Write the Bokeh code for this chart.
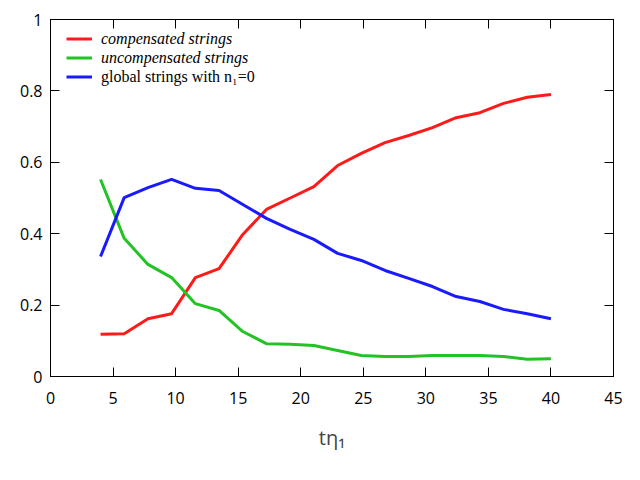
from bokeh.plotting import figure
from bokeh.models import LinearAxis, Legend, LegendItem, Range1d, FixedTicker, CustomLabelingPolicy
from bokeh.embed import file_html
from bokeh.resources import INLINE

t = [4.0, 5.89, 7.79, 9.68, 11.58, 13.47, 15.37, 17.26, 19.16, 21.05,
     22.95, 24.84, 26.74, 28.63, 30.53, 32.42, 34.32, 36.21, 38.11, 40.0]
compensated = [0.118, 0.120, 0.162, 0.176, 0.277, 0.302, 0.398, 0.468, 0.500, 0.532,
               0.591, 0.625, 0.655, 0.675, 0.697, 0.725, 0.739, 0.765, 0.782, 0.790]
uncompensated = [0.552, 0.387, 0.314, 0.277, 0.204, 0.185, 0.126, 0.092, 0.090, 0.087,
                 0.073, 0.059, 0.056, 0.056, 0.059, 0.059, 0.059, 0.056, 0.048, 0.050]
global_n1 = [0.336, 0.501, 0.529, 0.552, 0.527, 0.521, 0.482, 0.443, 0.412, 0.384,
             0.345, 0.325, 0.297, 0.275, 0.252, 0.224, 0.210, 0.188, 0.176, 0.162]

x_ticks = [0, 5, 10, 15, 20, 25, 30, 35, 40, 45]
y_ticks = [0, 0.2, 0.4, 0.6, 0.8, 1]
y_labels = {0: "0", 0.2: "0.2", 0.4: "0.4", 0.6: "0.6", 0.8: "0.8", 1: "1"}

TICK_FONT = "Open Sans"

p = figure(frame_width=563, frame_height=357, output_backend="svg", toolbar_location=None,
           x_range=Range1d(0, 45), y_range=Range1d(0, 1),
           x_axis_location=None, y_axis_location=None,
           min_border_left=50, min_border_right=20, min_border_top=19, min_border_bottom=88)
p.grid.visible = False
p.outline_line_color = "black"
p.outline_line_width = 1
p.background_fill_color = "white"
p.border_fill_color = "white"

no_labels = CustomLabelingPolicy(code="""
for (const i of Array.from(indices)) indices.unset(i)
return indices
""")

def style_axis(ax, labels=True):
    ax.major_tick_in = 9
    ax.major_tick_out = 0
    ax.minor_tick_in = 0
    ax.minor_tick_out = 0
    ax.axis_line_color = "black"
    ax.major_tick_line_color = "black"
    ax.major_label_text_font = TICK_FONT
    ax.major_label_text_color = "black"
    ax.major_label_text_font_size = "16px"
    if not labels:
        ax.major_label_policy = no_labels
        ax.major_label_standoff = 0

xb = LinearAxis(ticker=FixedTicker(ticks=x_ticks))
style_axis(xb)
xb.major_label_standoff = 15
xb.axis_label = "tη₁"
xb.axis_label_text_font = TICK_FONT
xb.axis_label_text_font_size = "20px"
xb.axis_label_text_font_style = "normal"
xb.axis_label_standoff = 17
p.add_layout(xb, "below")

yl = LinearAxis(ticker=FixedTicker(ticks=y_ticks))
style_axis(yl)
yl.major_label_standoff = 8
yl.major_label_overrides = y_labels
p.add_layout(yl, "left")

xt = LinearAxis(ticker=FixedTicker(ticks=x_ticks))
style_axis(xt, labels=False)
p.add_layout(xt, "above")

yr = LinearAxis(ticker=FixedTicker(ticks=y_ticks))
style_axis(yr, labels=False)
p.add_layout(yr, "right")

r1 = p.line(t, compensated, line_color="#ff1a1a", line_width=3)
r2 = p.line(t, uncompensated, line_color="#22c322", line_width=3)
r3 = p.line(t, global_n1, line_color="#1a1aff", line_width=3)

def make_legend(items, style, loc):
    lg = Legend(items=items, location=loc, orientation="vertical")
    lg.border_line_color = None
    lg.background_fill_alpha = 0
    lg.padding = 0
    lg.margin = 0
    lg.spacing = 0
    lg.label_height = 19
    lg.glyph_height = 19
    lg.glyph_width = 26
    lg.label_standoff = 9
    lg.label_text_font = "Liberation Serif"
    lg.label_text_font_size = "16px"
    lg.label_text_font_style = style
    lg.label_text_color = "black"
    return lg

lg1 = make_legend([LegendItem(label="compensated strings", renderers=[r1]),
                   LegendItem(label="uncompensated strings", renderers=[r2])],
                  "italic", (16, 309))
lg2 = make_legend([LegendItem(label="global strings with n₁=0", renderers=[r3])],
                  "normal", (16, 290))
p.add_layout(lg1, "center")
p.add_layout(lg2, "center")

open("out.html", "w").write(file_html(p, INLINE))
